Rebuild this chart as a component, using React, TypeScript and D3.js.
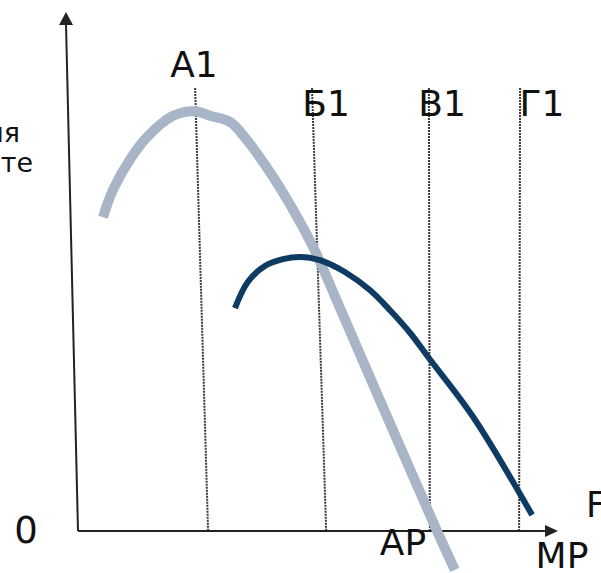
import React from 'react';
import * as d3 from 'd3';

const W = 601;
const H = 573;

// AP curve (light grey)
const apX = [0.52, 0.73, 1.08, 1.44, 1.98, 2.44, 2.75, 3.17, 3.52, 4.0, 4.42, 4.9, 5.46, 6.29, 7.48, 7.85];
const apY = [6.07, 6.6, 7.18, 7.62, 8.03, 8.12, 8.03, 7.91, 7.56, 6.94, 6.31, 5.49, 4.31, 2.53, 0, -0.75];

// MP curve (dark blue)
const mpX = [3.27, 3.54, 3.9, 4.27, 4.63, 5.04, 5.56, 6.08, 6.5, 6.92, 7.29, 8.23, 9.46];
const mpY = [4.31, 4.82, 5.13, 5.26, 5.3, 5.24, 5.01, 4.66, 4.27, 3.83, 3.37, 2.21, 0.31];

// Dotted guide lines
const guideNames = ['А1', 'Б1', 'В1', 'Г1'];
const guideTopX = [2.44, 4.875, 7.31, 9.21];
const guideBottomX = [2.71, 5.17, 7.33, 9.19];
const guideTopY = 8.57;

const FONT = '"DejaVu Sans", Verdana, sans-serif';

export default function App() {
  const x = d3.scaleLinear().domain([0, 10]).range([78, 558]);
  const y = d3.scaleLinear().domain([0, 10]).range([531, 14]);

  const line = d3
    .line<[number, number]>()
    .x((d) => x(d[0]))
    .y((d) => y(d[1]))
    .curve(d3.curveCatmullRom.alpha(0.5));

  const apPts = apX.map((v, i) => [v, apY[i]] as [number, number]);
  const mpPts = mpX.map((v, i) => [v, mpY[i]] as [number, number]);

  const labelPos = [
    { x: 194, y: 77 },
    { x: 326, y: 116 },
    { x: 442, y: 116 },
    { x: 542, y: 116 },
  ];

  const axisColor = '#222';
  const yTop = { x: 66, y: 12 };
  const yBottom = { x: x(0), y: y(0) };
  const xEnd = { x: 558, y: y(0) };

  return (
    <svg
      width={W}
      height={H}
      viewBox={`0 0 ${W} ${H}`}
      style={{ position: 'absolute', left: 0, top: 0, background: '#fff', fontFamily: FONT }}
    >
      <rect x={0} y={0} width={W} height={H} fill="#fff" />
      {/* guide lines */}
      {guideNames.map((n, i) => (
        <line
          key={n}
          x1={x(guideTopX[i])}
          y1={y(guideTopY)}
          x2={x(guideBottomX[i])}
          y2={y(0)}
          stroke="#3a3a3a"
          strokeWidth={2}
          strokeDasharray="2,1"
        />
      ))}
      {/* axes */}
      <line x1={yTop.x} y1={yTop.y + 12} x2={yBottom.x} y2={yBottom.y} stroke={axisColor} strokeWidth={2} />
      <polygon
        points={`${yTop.x},${yTop.y} ${yTop.x - 7},${yTop.y + 13} ${yTop.x + 7},${yTop.y + 13}`}
        fill={axisColor}
      />
      <line x1={yBottom.x} y1={yBottom.y} x2={xEnd.x - 11} y2={xEnd.y} stroke={axisColor} strokeWidth={2} />
      <polygon
        points={`${xEnd.x},${xEnd.y} ${xEnd.x - 13},${xEnd.y - 6} ${xEnd.x - 13},${xEnd.y + 6}`}
        fill={axisColor}
      />
      {/* curves */}
      <path d={line(apPts) || ''} fill="none" stroke="#a7b5c6" strokeWidth={10} strokeLinecap="butt" />
      <path d={line(mpPts) || ''} fill="none" stroke="#0e3b63" strokeWidth={6} strokeLinecap="butt" />
      {/* labels */}
      {guideNames.map((n, i) => (
        <text key={n} x={labelPos[i].x} y={labelPos[i].y} fontSize={36} textAnchor="middle" fill="#111">
          {n}
        </text>
      ))}
      <text x={26} y={543} fontSize={37} textAnchor="middle" fill="#111">0</text>
      <text x={403} y={555} fontSize={36} textAnchor="middle" fill="#111">AP</text>
      <text x={562} y={568} fontSize={36} textAnchor="middle" fill="#111">MP</text>
      <text x={586} y={517} fontSize={35} textAnchor="start" fill="#111">F</text>
      <text x={20} y={142} fontSize={27} textAnchor="end" fill="#111">ия</text>
      <text x={33} y={172} fontSize={27} textAnchor="end" fill="#111">те</text>
    </svg>
  );
}
